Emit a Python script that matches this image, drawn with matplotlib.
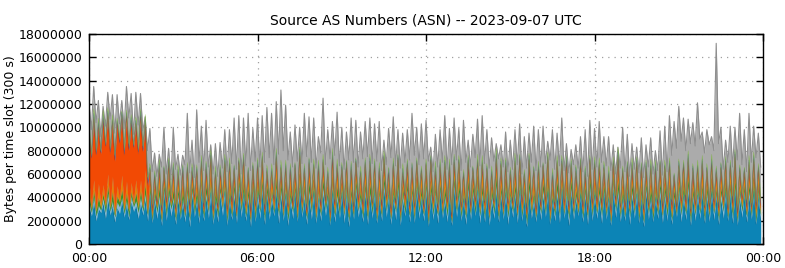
import numpy as np
import matplotlib
matplotlib.use("Agg")
import matplotlib.pyplot as plt
from matplotlib.ticker import FuncFormatter

# values in units of 100 kB per 300 s slot, 288 slots (00:00 .. 23:55)
# total height of each slot: peaks sit on even slots, troughs on odd slots
total_peaks = [121, 135, 123, 118, 130, 128, 128, 123, 135, 129, 130, 129, 109, 99, 78, 77, 100, 82, 100, 77,
               76, 112, 89, 115, 101, 106, 85, 86, 87, 98, 98, 108, 110, 108, 112, 99, 108,
               110, 117, 112, 122, 132, 119, 96, 102, 100, 112, 109, 108, 92, 125, 98, 105, 113, 100, 96,
               108, 106, 96, 105, 108, 103, 105, 89, 99, 109, 98, 95, 98, 112, 100, 103, 106, 83,
               94, 98, 110, 99, 108, 99, 106, 89, 94, 107, 110, 98, 91, 86, 85, 96, 89, 98, 103, 92,
               95, 101, 98, 101, 88, 98, 95, 108, 86, 81, 85, 92, 98, 106, 99, 105,
               92, 92, 85, 83, 100, 94, 86, 83, 91, 85, 91, 80, 97, 101, 110, 105, 118, 108, 107, 104,
               121, 96, 98, 92, 172, 100, 89, 101, 100, 112, 98, 112, 101, 95]
total_troughs = [98, 104, 92, 101, 107, 95, 103, 99, 108, 94, 102, 97, 80,
                 62, 58, 66, 60, 55, 64, 59, 68, 61, 57, 70, 63, 66, 60, 58, 65, 62, 69, 64, 60, 67, 63, 71, 66,
                 70, 74, 68, 77, 80, 72, 66, 71, 69, 75, 70, 65, 78, 68, 73, 76, 67, 64, 72, 70,
                 66, 73, 75, 69, 71, 63, 68, 74, 67, 65, 70, 72, 76, 68, 73, 71, 62, 66, 70,
                 64, 68, 72, 63, 70, 66, 74, 67, 69, 65, 71, 73, 66, 62, 64, 68, 60, 65, 70, 63,
                 66, 69, 72, 64, 67, 63, 61, 68, 65, 62, 58, 64, 66, 70, 67, 63, 60, 65, 62, 58,
                 64, 61, 57, 66, 60, 63, 59, 62,
                 76, 82, 88, 80, 86, 84, 90, 78, 85, 80, 86,
                 64, 70, 66, 72, 68, 62, 70, 74, 66]

base_pk = [32, 36, 30, 35, 38, 33, 31, 37, 34, 36, 33, 35, 38,
           42, 38, 36, 44, 40, 37, 38, 36, 39, 43, 38, 46,
           40, 44, 37, 42, 45, 39, 41, 47, 43, 38, 44, 40,
           46, 42, 39, 45, 41, 43, 37, 44, 48, 40, 42, 45,
           39, 43, 41, 46, 38, 44, 42, 40, 45, 37, 43, 41,
           44, 39, 47, 42, 40, 45, 38, 43, 41, 46, 39, 44,
           42, 40, 45, 38, 43, 47, 41, 39, 44, 42, 46, 40,
           43, 38, 45, 41, 44, 39, 42, 46, 40, 43, 37, 44,
           41, 45, 39, 42, 47, 40, 44, 38, 43, 41, 45, 42,
           39, 44, 40, 46, 42, 38, 45, 41, 43, 40, 44, 39,
           40, 42, 40, 44, 38, 43, 41, 45, 39, 42, 44,
           40, 45, 41, 38, 44, 42, 46, 39, 43, 41, 45, 40]
base_tr = [24, 20, 27, 22, 25, 19, 26, 23, 21, 28, 22, 25, 20,
           18, 22, 16, 20, 24, 17, 21, 19, 15, 23, 18, 20,
           22, 17, 19, 24, 16, 21, 18, 23, 20, 15, 19, 22,
           17, 21, 24, 18, 20, 16, 22, 19, 23, 17, 21, 18,
           20, 24, 16, 19, 22, 18, 15, 21, 23, 19, 17, 22,
           18, 20, 23, 17, 21, 16, 24, 19, 18, 22, 20, 15,
           21, 18, 22, 19, 16, 23, 20, 17, 21, 24, 18, 19,
           16, 22, 19, 21, 17, 23, 18, 20, 15, 22, 19, 21,
           23, 17, 20, 18, 22, 16, 21, 24, 19, 17, 20, 22,
           18, 21, 16, 23, 19, 20, 17, 22, 18, 15, 21, 19,
           22, 18, 20, 17, 23, 19, 21, 16, 20, 22, 18,
           19, 21, 17, 22, 20, 18, 16, 23, 19, 21, 17, 20]

lightblue_pk = [4, 5, 3, 4, 6, 4, 5, 3, 4, 5, 4, 6, 5, 3, 4, 6, 4, 5, 3, 5, 4, 6, 4, 3,
                5, 4, 6, 3, 4, 5, 4, 6, 5, 3, 4, 5, 6, 4, 3, 5, 4, 6, 5, 4, 3, 5, 6, 4,
                4, 5, 6, 3, 5, 4, 4, 6, 3, 5, 4, 5, 3, 6, 4, 5, 4, 3, 5, 6, 4, 4, 5, 3,
                6, 4, 5, 3, 4, 6, 5, 4, 3, 5, 4, 6, 4, 3, 5, 6, 4, 5, 3, 4, 6, 4, 5, 4,
                5, 6, 4, 3, 5, 4, 6, 5, 4, 3, 5, 6, 4, 5, 3, 4, 6, 5, 4, 3, 5, 6, 4, 5,
                3, 4, 6, 5, 4, 3, 5, 4, 6, 4, 5, 3, 5, 4, 3, 6, 4, 5, 4, 6, 3, 5, 4, 5]
lightblue_tr = [3, 4, 2, 5, 3, 4, 6, 3, 2, 4, 5, 3, 4, 2, 5, 3, 4, 6, 3, 2, 4, 5, 3, 4,
                2, 5, 3, 4, 6, 3, 2, 4, 5, 3, 4, 2, 5, 3, 4, 2, 6, 3, 4, 5, 2, 3, 4, 6,
                3, 4, 5, 2, 4, 3, 6, 4, 2, 5, 3, 4, 4, 2, 3, 5, 4, 6, 3, 2, 4, 3, 5, 4,
                2, 4, 6, 3, 5, 2, 4, 3, 5, 4, 2, 6, 3, 5, 4, 2, 3, 6, 4, 5, 3, 2, 4, 3,
                5, 3, 2, 4, 6, 3, 5, 4, 2, 3, 5, 4, 4, 6, 3, 2, 5, 4, 3, 6, 4, 2, 3, 5,
                2, 3, 5, 4, 3, 2, 6, 4, 3, 5, 4, 2, 4, 5, 3, 6, 2, 4, 3, 5, 4, 3, 2, 4]

green_pk = [6, 5, 7, 4, 6, 8, 5, 7, 6, 4, 7, 5, 8, 6, 5, 7, 4, 6, 7, 5, 8, 6, 4, 7,
            5, 7, 6, 8, 4, 5, 7, 6, 5, 8, 6, 4, 7, 5, 6, 4, 8, 7, 5, 6, 4, 7, 5, 8,
            6, 4, 7, 5, 6, 8, 4, 7, 5, 6, 7, 5, 8, 6, 4, 7, 5, 6, 8, 5, 7, 4, 6, 7,
            5, 8, 6, 4, 7, 5, 6, 8, 4, 7, 5, 6, 7, 4, 6, 8, 5, 7, 4, 6, 7, 5, 8, 6,
            4, 6, 7, 5, 8, 4, 6, 7, 5, 6, 4, 8, 6, 7, 5, 4, 6, 8, 7, 5, 6, 4, 7, 5,
            8, 5, 6, 7, 4, 6, 5, 8, 7, 5, 6, 4, 6, 7, 4, 5, 8, 6, 7, 4, 5, 6, 8, 7]
green_tr = [3, 4, 2, 5, 3, 2, 4, 3, 5, 2, 4, 3, 2, 3, 4, 2, 5, 3, 3, 4, 2, 3, 5, 2,
            4, 2, 3, 5, 2, 4, 3, 2, 4, 3, 2, 5, 3, 5, 2, 3, 4, 2, 5, 3, 2, 4, 3, 4,
            2, 3, 4, 2, 3, 5, 2, 4, 3, 2, 4, 3, 5, 2, 3, 4, 2, 3, 4, 5, 2, 3, 4, 2,
            3, 4, 2, 3, 5, 2, 3, 4, 3, 2, 5, 3, 4, 2, 5, 3, 2, 4, 3, 2, 4, 5, 3, 2,
            3, 4, 2, 4, 3, 2, 5, 3, 2, 4, 3, 4, 2, 5, 3, 2, 4, 3, 2, 5, 3, 4, 2, 3,
            4, 3, 2, 5, 3, 2, 4, 3, 5, 2, 3, 4, 3, 2, 4, 3, 2, 5, 3, 4, 2, 3, 4, 2]

orange_pk = [11, 9, 12, 8, 10, 13, 9, 12, 10, 8, 11, 9, 13, 10, 9, 12, 8, 14, 11, 9, 10, 12, 8, 10,
             12, 9, 14, 10, 8, 11, 13, 9, 10, 14, 12, 8, 10, 13, 9, 11, 14, 8, 10, 12, 9, 13, 10, 11,
             9, 14, 10, 8, 12, 13, 9, 10, 14, 11, 8, 13, 12, 9, 13, 10, 8, 14, 11, 9, 10, 13, 8, 12,
             10, 13, 8, 12, 14, 9, 10, 13, 11, 8, 10, 9, 14, 11, 9, 10, 13, 8, 12, 14, 10, 9, 13, 11,
             9, 10, 13, 8, 12, 10, 14, 9, 11, 13, 8, 10, 11, 14, 9, 10, 8, 13, 12, 9, 10, 14, 11, 8,
             13, 9, 11, 10, 14, 8, 10, 13, 9, 11, 10, 14, 9, 11, 10, 13, 8, 12, 14, 10, 9, 13, 11, 10]
orange_tr = [3, 2, 4, 3, 2, 5, 3, 4, 2, 3, 4, 2, 4, 3, 2, 5, 3, 2, 4, 3, 2, 4, 5, 3,
             2, 4, 3, 2, 5, 3, 4, 2, 3, 5, 2, 4, 3, 2, 5, 4, 2, 3, 4, 2, 5, 3, 2, 4,
             4, 3, 2, 3, 5, 2, 4, 3, 2, 4, 3, 5, 2, 4, 3, 5, 2, 3, 2, 4, 3, 5, 4, 2,
             3, 5, 2, 4, 3, 2, 5, 3, 4, 2, 3, 4, 5, 2, 3, 4, 2, 5, 3, 2, 4, 3, 5, 2,
             2, 3, 5, 2, 4, 3, 2, 4, 5, 3, 2, 3, 4, 2, 3, 5, 2, 4, 3, 2, 3, 4, 5, 2,
             3, 4, 2, 3, 5, 2, 4, 3, 2, 4, 3, 5, 2, 3, 4, 2, 3, 5, 2, 4, 3, 2, 5, 3]

red_pk = [45, 52, 48, 55, 50, 47, 53, 49, 56, 51, 48, 54, 40,
          3, 2, 4, 3, 2, 5, 3, 4, 2, 3, 5, 2, 4, 3, 2, 4, 3, 5, 2, 3, 4, 2, 3, 4,
          5, 2, 3, 4, 3, 2, 4, 5, 3, 2, 4, 3, 2, 4, 3, 5, 2, 3, 4, 2, 3, 5, 3, 4,
          2, 3, 4, 2, 5, 3, 2, 4, 3, 4, 2, 3, 5, 3, 2, 4, 3, 2, 4, 3, 5, 2, 3, 4,
          3, 2, 4, 5, 3, 2, 3, 4, 2, 3, 5, 2, 4, 3, 2, 3, 4, 5, 2, 3, 4, 2, 3, 5,
          3, 4, 2, 3, 5, 2, 4, 3, 2, 4, 3, 2, 5, 3, 4, 2, 3, 4, 2, 5, 3, 2, 4,
          3, 2, 4, 3, 5, 2, 3, 4, 2, 3, 4, 3]
red_tr = [40, 46, 42, 48, 44, 41, 47, 43, 50, 45, 42, 46, 20,
          2, 1, 2, 3, 1, 2, 2, 1, 3, 2, 1, 2, 3, 2, 1, 2, 2, 3, 1, 2, 1, 3, 2, 2,
          1, 2, 3, 1, 2, 2, 1, 3, 2, 1, 2, 3, 2, 1, 2, 2, 3, 1, 2, 1, 2, 3, 2, 1,
          2, 3, 1, 2, 1, 2, 3, 2, 2, 1, 2, 3, 1, 2, 2, 3, 1, 2, 1, 2, 3, 2, 1, 2,
          2, 1, 3, 2, 2, 1, 2, 3, 1, 2, 2, 1, 3, 2, 1, 2, 3, 2, 1, 2, 2, 1, 3, 2,
          2, 1, 2, 3, 1, 2, 2, 1, 3, 2, 1, 2, 1, 3, 2, 2, 1, 2, 3, 1, 2, 2, 1,
          2, 2, 1, 3, 2, 1, 2, 2, 3, 1, 2, 2]

# thin layers, one value per slot
brown = [2, 1, 2, 1, 3, 1, 2, 1, 2, 2, 1, 1, 2, 1, 3, 1, 2, 1, 2, 1, 1, 2, 2, 1,
         1, 2, 1, 3, 1, 2, 2, 1, 2, 1, 3, 1, 2, 1, 2, 1, 2, 2, 1, 3, 1, 2, 1, 2,
         1, 2, 2, 1, 3, 1, 2, 1, 2, 1, 2, 2, 1, 3, 1, 2, 1, 2, 2, 1, 1, 2, 3, 1,
         2, 1, 2, 2, 1, 3, 1, 2, 1, 2, 1, 2, 2, 1, 1, 2, 3, 1, 2, 1, 2, 2, 1, 2,
         1, 2, 3, 1, 2, 1, 1, 2, 2, 1, 3, 1, 2, 2, 1, 1, 2, 3, 1, 2, 1, 2, 1, 2,
         3, 1, 2, 1, 2, 1, 2, 2, 1, 3, 1, 1, 2, 1, 2, 3, 1, 2, 1, 1, 2, 2, 1, 2,
         1, 3, 1, 2, 2, 1, 2, 1, 3, 1, 2, 1, 2, 1, 2, 1, 1, 2, 3, 1, 2, 1, 2, 2,
         1, 2, 1, 3, 2, 1, 2, 1, 1, 2, 2, 1, 3, 1, 2, 2, 1, 2, 1, 3, 1, 2, 1, 2,
         2, 1, 1, 2, 3, 1, 2, 2, 1, 1, 2, 3, 1, 2, 2, 1, 2, 1, 3, 1, 2, 2, 1, 1,
         2, 3, 1, 2, 1, 2, 1, 2, 2, 1, 3, 1, 1, 2, 2, 1, 3, 1, 2, 1, 1, 2, 2, 1,
         2, 1, 3, 1, 2, 2, 1, 2, 1, 3, 1, 2, 1, 2, 1, 2, 2, 1, 3, 1, 2, 1, 2, 1,
         2, 2, 1, 3, 1, 2, 1, 2, 2, 1, 1, 2, 3, 1, 2, 1, 2, 1, 2, 2, 1, 3, 1, 2]
blue = [2, 1, 3, 2, 2, 1, 3, 1, 2, 2, 1, 3, 1, 2, 2, 3, 1, 2, 3, 1, 2, 1, 3, 2,
        2, 3, 1, 2, 2, 1, 3, 2, 1, 3, 2, 1, 3, 1, 2, 2, 3, 1, 2, 1, 3, 2, 2, 1,
        2, 2, 3, 1, 2, 3, 1, 2, 2, 1, 3, 2, 1, 3, 2, 2, 1, 3, 2, 1, 2, 3, 1, 2,
        3, 2, 1, 3, 2, 1, 2, 2, 3, 1, 2, 3, 2, 1, 3, 2, 1, 2, 3, 1, 2, 2, 3, 1,
        1, 2, 2, 3, 1, 3, 2, 1, 3, 2, 1, 2, 2, 3, 1, 2, 3, 1, 2, 3, 1, 2, 2, 3,
        3, 1, 2, 1, 2, 3, 1, 2, 3, 1, 2, 2, 2, 2, 3, 1, 2, 1, 3, 2, 1, 3, 1, 2,
        1, 3, 2, 2, 3, 1, 2, 1, 2, 3, 2, 1, 3, 2, 1, 3, 1, 2, 2, 3, 1, 2, 1, 3,
        2, 1, 2, 3, 2, 1, 3, 1, 2, 2, 3, 1, 1, 2, 3, 1, 2, 3, 1, 2, 3, 1, 2, 2,
        2, 3, 1, 2, 1, 2, 3, 2, 1, 3, 2, 1, 3, 1, 2, 2, 3, 1, 1, 2, 3, 2, 1, 3,
        2, 2, 1, 3, 2, 1, 2, 3, 1, 2, 3, 1, 1, 3, 2, 1, 2, 3, 2, 1, 2, 1, 3, 2,
        2, 1, 3, 2, 1, 2, 1, 3, 2, 3, 1, 2, 3, 2, 1, 2, 3, 1, 2, 2, 1, 3, 2, 1,
        1, 2, 3, 1, 2, 2, 3, 1, 2, 1, 2, 3, 2, 3, 1, 2, 1, 3, 2, 1, 3, 2, 1, 2]
lightgreen = [3, 2, 4, 2, 3, 1, 4, 2, 3, 2, 4, 1, 2, 3, 1, 4, 2, 3, 2, 1, 3, 4, 2, 2,
              4, 2, 3, 1, 2, 4, 3, 2, 1, 3, 2, 4, 2, 3, 4, 2, 1, 3, 2, 4, 3, 1, 2, 3,
              3, 1, 2, 4, 3, 2, 4, 1, 2, 3, 3, 2, 4, 2, 1, 3, 2, 4, 2, 3, 1, 4, 2, 3,
              2, 4, 3, 1, 3, 2, 4, 2, 3, 1, 4, 2, 3, 2, 2, 4, 1, 3, 2, 4, 2, 3, 1, 3,
              4, 1, 3, 2, 4, 2, 3, 1, 3, 2, 4, 2, 2, 3, 1, 4, 2, 3, 1, 3, 4, 2, 2, 3,
              3, 4, 2, 1, 3, 2, 4, 2, 1, 3, 3, 2, 1, 3, 4, 2, 2, 3, 1, 4, 2, 3, 2, 4,
              3, 2, 1, 3, 4, 2, 3, 2, 4, 1, 3, 2, 2, 4, 3, 1, 2, 4, 2, 3, 1, 3, 4, 2,
              4, 1, 2, 3, 3, 2, 4, 1, 3, 2, 2, 4, 2, 3, 4, 2, 1, 3, 2, 4, 2, 3, 1, 3,
              3, 2, 1, 4, 3, 2, 3, 1, 4, 2, 3, 2, 1, 4, 2, 3, 2, 3, 1, 4, 2, 3, 2, 1,
              3, 2, 4, 1, 3, 2, 4, 2, 3, 1, 4, 2, 2, 3, 1, 3, 4, 2, 2, 3, 1, 4, 2, 3,
              4, 2, 3, 2, 1, 3, 4, 2, 3, 2, 1, 4, 2, 3, 2, 4, 3, 1, 2, 3, 4, 2, 3, 1,
              3, 1, 4, 2, 2, 3, 1, 4, 2, 3, 2, 3, 2, 4, 2, 3, 1, 3, 4, 2, 3, 1, 2, 4]

tick_hours = [0, 6, 12, 18, 24]
tick_labels = ["00:00", "06:00", "12:00", "18:00", "00:00"]
title = "Source AS Numbers (ASN) -- 2023-09-07 UTC"


def slots(peaks, troughs):
    """put peak/trough readings back in slot order"""
    return np.column_stack([peaks, troughs]).ravel()


unit = 1e5
hours = np.arange(288) / 12.0
total = slots(total_peaks, total_troughs) * unit

# (values, fill colour, edge colour, edge width)
layers = [
    (slots(base_pk, base_tr), "#0c84b6", "#0b6f99", 0.5),
    (slots(lightblue_pk, lightblue_tr), "#86bcd8", "#7aaecb", 0.2),
    (slots(green_pk, green_tr), "#3f922c", "#3a8628", 0.2),
    (slots(orange_pk, orange_tr), "#e5840c", "#d67a0a", 0.2),
    (slots(red_pk, red_tr), "#f24a04", "#e04404", 0.2),
    (np.array(brown), "#9c3a3a", "#8c3434", 0.2),
    (np.array(blue), "#3b62b2", "#3558a0", 0.2),
    (np.array(lightgreen), "#88c442", "#7cb43c", 0.2),
]

fig = plt.figure(figsize=(7.85, 2.68), dpi=100)
ax = fig.add_axes([0.1134, 0.0896, 0.8586, 0.7836])

# everything not in the top ASNs: grey total behind the stack
ax.fill_between(hours, 0, total, color="#ababab", lw=0, zorder=2)
ax.plot(hours, total, color="#8e8e8e", lw=0.8, zorder=2)

bottom = np.zeros(288)
for vals, col, edge, lw in layers:
    top = bottom + vals * unit
    ax.fill_between(hours, bottom, top, color=col, lw=0, zorder=3)
    ax.plot(hours, top, color=edge, lw=lw, zorder=3)
    bottom = top

ax.set_xlim(0, 24)
ax.set_ylim(0, 18000000)
ax.set_yticks(np.arange(0, 18000001, 2000000))
ax.yaxis.set_major_formatter(FuncFormatter(lambda v, _: "%d" % v))
ax.set_xticks(tick_hours)
ax.set_xticklabels(tick_labels)

ax.set_axisbelow(True)
ax.grid(True, linestyle=(0, (1, 4)), color="#a0a0a0", lw=0.9, zorder=0)
ax.tick_params(direction="in", top=True, right=True, length=5, width=1,
               labelsize=9, colors="black")
ax.tick_params(axis="x", pad=6)
ax.tick_params(axis="y", pad=5)
for s in ax.spines.values():
    s.set_linewidth(1)
    s.set_zorder(5)

ax.set_ylabel("Bytes per time slot (300 s)", fontsize=9, labelpad=1)
ax.set_title(title, fontsize=10, pad=7)

fig.savefig("out.png", dpi=100)
